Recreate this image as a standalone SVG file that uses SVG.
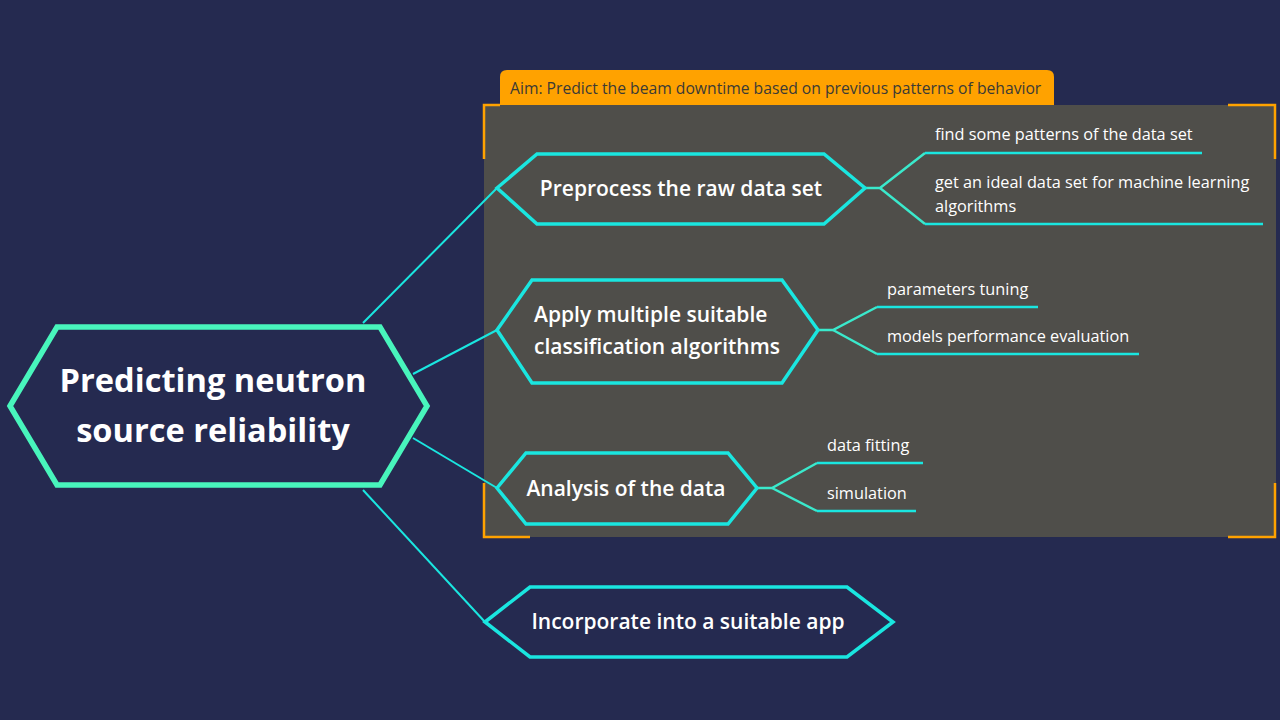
<svg xmlns="http://www.w3.org/2000/svg" width="1280" height="720" viewBox="0 0 1280 720">
  <style>
    .hex { stroke: #1ae6e0; stroke-width: 3.5; stroke-linejoin: miter; }
    .hex-main { fill: #252a50; stroke: #48f5bc; stroke-width: 5.5; }
    .on-panel { fill: #4f4e4a; }
    .on-bg { fill: #252a50; }
    .link { stroke: #1ae6e0; stroke-width: 2; fill: none; }
    .twig { stroke: #3ae9cc; stroke-width: 2.5; fill: none; }
    .leaf-line { stroke: #1ae6e0; stroke-width: 2.5; fill: none; }
    .bracket { stroke: #ffa200; stroke-width: 2.5; fill: none; }
    .title { font-family: "Open Sans", "Noto Sans", sans-serif; font-weight: 700; font-size: 32.6px; fill: #ffffff; text-anchor: middle; }
    .topic { font-family: "Open Sans", "Noto Sans", sans-serif; font-weight: 600; font-size: 21px; fill: #ffffff; }
    .leaf { font-family: "Open Sans", "Noto Sans", sans-serif; font-size: 16.3px; fill: #ffffff; }
    .aim { font-family: "Open Sans", "Noto Sans", sans-serif; font-size: 15.7px; fill: #3b3a36; }
  </style>

  <rect width="1280" height="720" fill="#252a50"/>

  <!-- Aim panel -->
  <g id="aim-panel">
    <rect x="484" y="105" width="792" height="432" fill="#4f4e4a"/>
    <path d="M500 105 V77 Q500 70 507 70 H1047 Q1054 70 1054 77 V105 Z" fill="#ffa200"/>
    <text class="aim" x="510" y="94">Aim: Predict the beam downtime based on previous patterns of behavior</text>
    <path class="bracket" d="M484 159 V105 H500"/>
    <path class="bracket" d="M1228 105 H1275 V159"/>
    <path class="bracket" d="M484 483 V537 H530"/>
    <path class="bracket" d="M1228 537 H1275 V483"/>
  </g>

  <!-- Connectors -->
  <g id="connectors">
    <line class="link" x1="363" y1="323" x2="497" y2="188"/>
    <line class="link" x1="413" y1="374" x2="497" y2="330"/>
    <line class="link" x1="413" y1="438" x2="497" y2="488"/>
    <line class="link" x1="363" y1="490" x2="485" y2="622"/>

    <path class="twig" d="M865 188 H880 L925 153"/>
    <path class="twig" d="M880 188 L925 224"/>
    <line class="leaf-line" x1="925" y1="153" x2="1202" y2="153"/>
    <line class="leaf-line" x1="925" y1="224" x2="1263" y2="224"/>

    <path class="twig" d="M818 330 H833 L877 307"/>
    <path class="twig" d="M833 330 L877 354"/>
    <line class="leaf-line" x1="877" y1="307" x2="1038" y2="307"/>
    <line class="leaf-line" x1="877" y1="354" x2="1139" y2="354"/>

    <path class="twig" d="M757 488 H772 L817 463"/>
    <path class="twig" d="M772 488 L817 511"/>
    <line class="leaf-line" x1="817" y1="463" x2="923" y2="463"/>
    <line class="leaf-line" x1="817" y1="511" x2="916" y2="511"/>
  </g>

  <g id="root">
    <polygon class="hex-main" points="10,406 57,327 380,327 427,406 380,485 57,485"/>
    <text class="title" x="213" y="392">Predicting neutron</text>
    <text class="title" x="213" y="442">source reliability</text>
  </g>

  <g id="preprocess">
    <polygon class="hex on-panel" points="497,188 537,154 824,154 865,188 824,224 537,224"/>
    <text class="topic" x="681" y="196" text-anchor="middle">Preprocess the raw data set</text>
  </g>
  <g id="preprocess-leaves">
    <text class="leaf" x="935" y="140">find some patterns of the data set</text>
    <text class="leaf" x="935" y="188">get an ideal data set for machine learning</text>
    <text class="leaf" x="935" y="212">algorithms</text>
  </g>

  <g id="classify">
    <polygon class="hex on-panel" points="497,330 532,280 782,280 818,330 782,383 532,383"/>
    <text class="topic" x="534" y="322">Apply multiple suitable</text>
    <text class="topic" x="534" y="354">classification algorithms</text>
  </g>
  <g id="classify-leaves">
    <text class="leaf" x="887" y="295">parameters tuning</text>
    <text class="leaf" x="887" y="342">models performance evaluation</text>
  </g>

  <g id="analysis">
    <polygon class="hex on-panel" points="497,488 526,453 728,453 757,488 728,524 526,524"/>
    <text class="topic" x="626" y="496" text-anchor="middle">Analysis of the data</text>
  </g>
  <g id="analysis-leaves">
    <text class="leaf" x="827" y="451">data fitting</text>
    <text class="leaf" x="827" y="499">simulation</text>
  </g>

  <g id="incorporate">
    <polygon class="hex on-bg" points="485,622 530,587 847,587 893,622 847,657 530,657"/>
    <text class="topic" x="688" y="629" text-anchor="middle">Incorporate into a suitable app</text>
  </g>
</svg>
